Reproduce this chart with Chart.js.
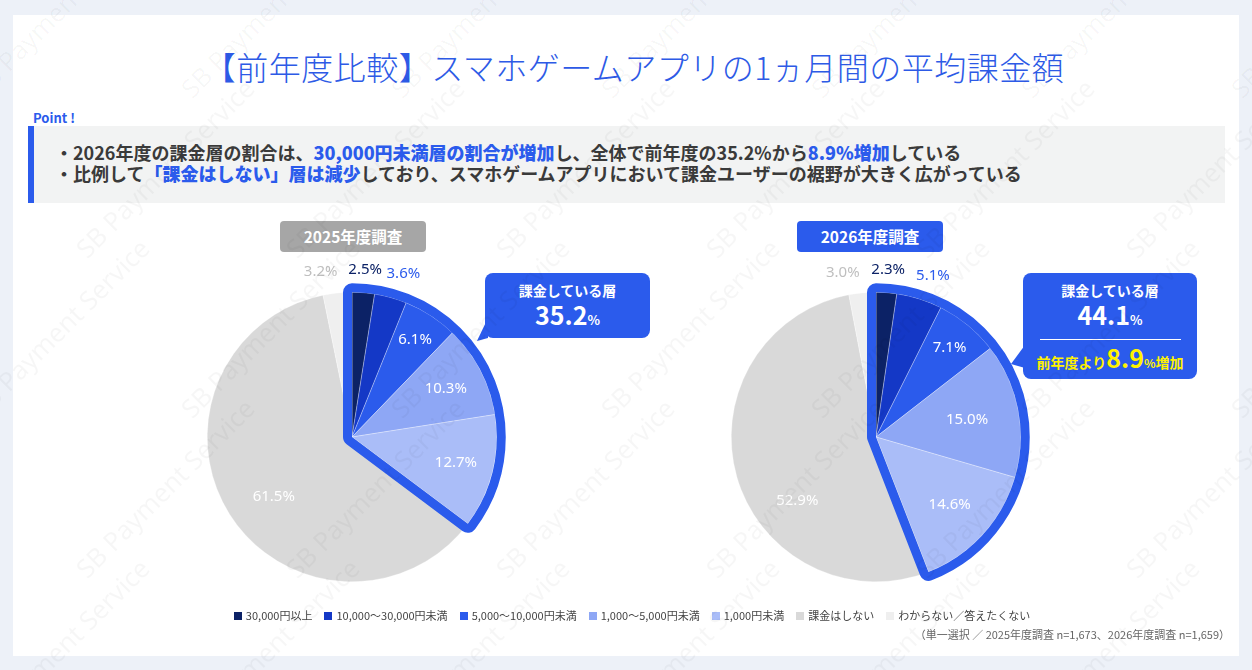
<!DOCTYPE html>
<html lang="ja">
<head>
<meta charset="utf-8">
<script src="https://cdn.jsdelivr.net/npm/chart.js@4"></script>
<style>
  html, body { margin: 0; padding: 0; }
  body {
    width: 1252px; height: 670px; position: relative; overflow: hidden;
    background: #edf1f8;
    font-family: "Noto Sans CJK JP", "Noto Sans", sans-serif;
  }
  .card { position: absolute; left: 13px; top: 15px; width: 1226px; height: 641px; background: #fff; }
  .abs { position: absolute; }
  #title { left: 4px; width: 1260px; top: 43px; text-align: center; font-size: 32px; font-weight: 300; color: #2d5ae6; letter-spacing: 0.5px; }
  #point { left: 33px; top: 108px; font-size: 13px; font-weight: 700; color: #2b5bec; }
  #pointBox { left: 28px; top: 126px; width: 1191px; height: 77px; background: #f2f3f3; border-left: 6px solid #2b5bec; }
  .pline { position: absolute; left: 21px; font-size: 18px; line-height: 20px; font-weight: 700; color: #3a3a3a; white-space: nowrap; }
  .pline b { color: #2b5bec; }
  .tag { height: 31px; line-height: 31px; width: 146px; text-align: center; color: #fff; font-weight: 700; font-size: 15.5px; border-radius: 4px; top: 221px; z-index: 3; }
  canvas { position: absolute; z-index: 1; }
  .callout { background: #2b5bec; border-radius: 8px; color: #fff; text-align: center; z-index: 3; }
  .tail { background: #2b5bec; z-index: 3; }
  .cl1 { font-size: 14px; font-weight: 700; line-height: 18px; }
  .big { font-size: 25px; font-weight: 700; line-height: 30px; }
  .big small { font-size: 13px; }
  #legend { left: 0; width: 1264px; top: 607px; text-align: center; font-size: 11px; color: #444; white-space: nowrap; z-index: 3; }
  #legend span.item { margin: 0 6px; }
  #legend i { display: inline-block; width: 8px; height: 8px; margin-right: 4px; vertical-align: 0px; }
  #note { right: 22px; top: 626px; font-size: 11px; color: #666; z-index: 3; }
  .wm { position: absolute; font-family: "Noto Sans", sans-serif; font-size: 26px; color: rgba(0,0,0,0.035); transform: rotate(-45deg); white-space: nowrap; z-index: 5; pointer-events: none; }
</style>
</head>
<body>
<div class="card"></div>
<div id="title" class="abs">【前年度比較】スマホゲームアプリの1ヵ月間の平均課金額</div>
<div id="point" class="abs">Point !</div>
<div id="pointBox" class="abs">
  <div class="pline" style="top:16px">・2026年度の課金層の割合は、<b>30,000円未満層の割合が増加</b>し、全体で前年度の35.2%から<b>8.9%増加</b>している</div>
  <div class="pline" style="top:37px">・比例して<b>「課金はしない」層は減少</b>しており、スマホゲームアプリにおいて課金ユーザーの裾野が大きく広がっている</div>
</div>

<div class="abs tag" style="left:280px;background:#a6a6a6">2025年度調査</div>
<div class="abs tag" style="left:797px;background:#2b5bec">2026年度調査</div>

<canvas id="pie2025" width="400" height="400" style="left:152px;top:237px"></canvas>
<canvas id="pie2026" width="400" height="400" style="left:676px;top:237px"></canvas>

<div class="abs tail" style="left:476px;top:318px;width:12px;height:24px;clip-path:polygon(100% 0,100% 83%,8% 96%)"></div>
<div class="abs callout" style="left:485px;top:273px;width:165px;height:65px">
  <div class="cl1" style="margin-top:8px">課金している層</div>
  <div class="big" id="share2025"></div>
</div>

<div class="abs tail" style="left:1011px;top:345px;width:14px;height:23px;clip-path:polygon(100% 0,100% 100%,0 83%)"></div>
<div class="abs callout" style="left:1023px;top:273px;width:174px;height:106px">
  <div class="cl1" style="margin-top:8px">課金している層</div>
  <div class="big" id="share2026"></div>
  <div style="margin:4px auto 0;width:141px;height:1px;background:#fff"></div>
  <div id="diff" style="color:#fff200;font-weight:700;font-size:14px;line-height:30px;margin-top:2px"></div>
</div>

<div id="legend" class="abs"></div>
<div id="note" class="abs">（単一選択 ／ 2025年度調査 n=1,673、2026年度調査 n=1,659）</div>

<script>
const categories = ["30,000円以上", "10,000〜30,000円未満", "5,000〜10,000円未満", "1,000〜5,000円未満", "1,000円未満", "課金はしない", "わからない／答えたくない"];
const values2025 = [2.5, 3.6, 6.1, 10.3, 12.7, 61.5, 3.2];
const values2026 = [2.3, 5.1, 7.1, 15.0, 14.6, 52.9, 3.0];
const payingCount = 5; // first five categories are paying users
const payingShare2025 = 35.2;
const payingShare2026 = 44.1;
const payingIncrease = 8.9;

const sliceColors = ["#0c2266", "#1438c6", "#2b5bec", "#8ea7f5", "#aabdf8", "#d9d9d9", "#efefef"];
const labelColors = ["#0c2266", "#2b5bec", "#fff", "#fff", "#fff", "#fff", "#bfbfbf"];
// label placement: radius factor and angle nudge (deg)
const labelRadius2025 = [1.16, 1.18, 0.8, 0.73, 0.74, 0.68, 1.16];
const labelTurn2025 = [0, 2, 0, 0, 0, -5, -5];
const labelRadius2026 = [1.16, 1.18, 0.8, 0.64, 0.69, 0.70, 1.16];
const labelTurn2026 = [0, 2, 0, 0, 0, -23, -6];

document.getElementById("share2025").innerHTML = payingShare2025.toFixed(1) + "<small>%</small>";
document.getElementById("share2026").innerHTML = payingShare2026.toFixed(1) + "<small>%</small>";
document.getElementById("diff").innerHTML = '前年度より<span style="font-size:25px">' + payingIncrease.toFixed(1) + '</span><span style="font-size:12px">%</span>増加';

// legend
let legendHtml = "";
categories.forEach((c, i) => {
  legendHtml += `<span class="item"><i style="background:${sliceColors[i]}"></i>${c}</span>`;
});
document.getElementById("legend").innerHTML = legendHtml;

// thick outline around the paying slices (drawn outside of them only)
const payingOutline = {
  id: "payingOutline",
  afterDatasetsDraw(chart) {
    const arcs = chart.getDatasetMeta(0).data;
    const a0 = arcs[0], a1 = arcs[payingCount - 1];
    const { x, y, outerRadius } = a0.getProps(["x", "y", "outerRadius"]);
    const start = a0.startAngle, end = a1.endAngle;
    const ctx = chart.ctx;
    ctx.save();
    ctx.beginPath();
    ctx.rect(0, 0, chart.width, chart.height);
    ctx.moveTo(x, y);
    ctx.arc(x, y, outerRadius, start, end);
    ctx.closePath();
    ctx.clip("evenodd");
    ctx.beginPath();
    ctx.moveTo(x, y);
    ctx.arc(x, y, outerRadius, start, end);
    ctx.closePath();
    ctx.lineWidth = 18;
    ctx.lineJoin = "round";
    ctx.strokeStyle = "#2b5bec";
    ctx.stroke();
    ctx.restore();
  }
};

const sliceLabels = {
  id: "sliceLabels",
  afterDraw(chart, args, opts) {
    const ctx = chart.ctx;
    const values = chart.data.datasets[0].data;
    ctx.save();
    ctx.font = "15px 'Noto Sans', sans-serif";
    ctx.textAlign = "center";
    ctx.textBaseline = "middle";
    chart.getDatasetMeta(0).data.forEach((arc, i) => {
      const mid = (arc.startAngle + arc.endAngle) / 2 + opts.turn[i] * Math.PI / 180;
      const r = arc.outerRadius * opts.radius[i];
      ctx.fillStyle = labelColors[i];
      ctx.fillText(values[i].toFixed(1) + "%", arc.x + r * Math.cos(mid), arc.y + r * Math.sin(mid));
    });
    ctx.restore();
  }
};

function makePie(id, values, radius, turn) {
  return new Chart(document.getElementById(id).getContext("2d"), {
    type: "pie",
    data: {
      labels: categories,
      datasets: [{
        data: values,
        backgroundColor: sliceColors,
        borderColor: "rgba(255,255,255,0.6)",
        borderWidth: 0.5,
      }],
    },
    options: {
      responsive: false,
      animation: false,
      layout: { padding: 55 },
      plugins: {
        legend: { display: false },
        tooltip: { enabled: false },
        sliceLabels: { radius: radius, turn: turn },
      },
    },
    plugins: [payingOutline, sliceLabels],
  });
}

makePie("pie2025", values2025, labelRadius2025, labelTurn2025);
makePie("pie2026", values2026, labelRadius2026, labelTurn2026);

// watermark
for (let row = 0; row < 5; row++) {
  for (let col = 0; col < 7; col++) {
    const wm = document.createElement("div");
    wm.className = "wm";
    wm.textContent = "SB Payment Service";
    wm.style.left = (col * 210 - 60 + (row % 2) * 105) + "px";
    wm.style.top = (row * 160 - 10) + "px";
    document.body.appendChild(wm);
  }
}
</script>
</body>
</html>
